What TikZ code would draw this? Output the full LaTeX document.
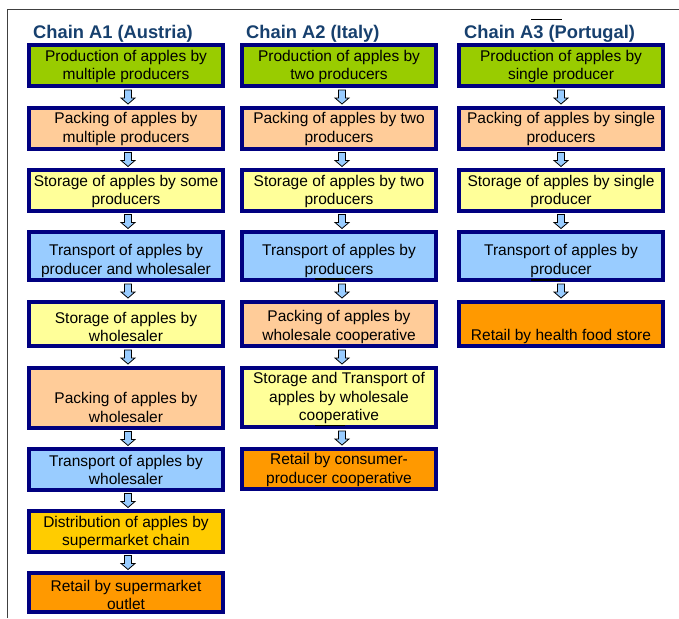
\documentclass[tikz,border=0pt]{standalone}
\usepackage{fontspec}
\setmainfont{Liberation Sans}
\usetikzlibrary{calc}
\definecolor{navyb}{HTML}{000080}
\definecolor{gbox}{HTML}{99CC00}
\definecolor{pbox}{HTML}{FFCC99}
\definecolor{ybox}{HTML}{FFFF99}
\definecolor{bbox}{HTML}{99CCFF}
\definecolor{obox}{HTML}{FFCC00}
\definecolor{rbox}{HTML}{FF9900}
\definecolor{titleblue}{HTML}{17406E}
\newcommand{\chbox}[8]{%
  \node[chbox, fill=#2, minimum width={#4-#3-4}, minimum height={#6-#5-4}] (#1) at ({(#3+#4)/2},{(#5+#6)/2}) {};
  \node[chtext] (#1t) at ({(#3+#4)/2},#7) {#8};
}
\newcommand{\darr}[3]{\path ($(#1.south)!0.5!(#2.north)+(#3,0)$) pic {downarr};}
\tikzset{
  chbox/.style={draw=navyb, line width=4pt, rectangle, inner sep=0pt},
  chtext/.style={align=center, inner sep=0pt, yshift=-1.5pt, font=\fontsize{15.5}{18.5}\selectfont},
  chtitle/.style={anchor=base west, inner sep=0pt, text=titleblue, font=\fontsize{18.3}{20}\selectfont\bfseries},
  arrstyle/.style={draw=black, fill=bbox, line width=0.8pt, line join=miter},
  downarr/.pic={\draw[arrstyle] (-3.5,-7) -- (3.5,-7) -- (3.5,1) -- (7,1) -- (0,7) -- (-7,1) -- (-3.5,1) -- cycle;},
  stray/.style={draw=black, line width=1.5pt}
}
\begin{document}
\begin{tikzpicture}[x=1pt,y=-1pt]
\useasboundingbox[fill=white] (0,0) rectangle (679,618);
\draw[black!75, line width=1.6pt] (7.5,618) -- (7.5,9.5) -- (679,9.5);

\node[chtitle] (t1) at (33,38) {Chain A1 (Austria)};
\node[chtitle] (t2) at (246,38) {Chain A2 (Italy)};
\node[chtitle] (t3) at (464,38) {Chain A3 (Portugal)};

% Chain A1
\chbox{a1}{gbox}{27}{225}{43}{88}{65}{Production of apples by\\multiple producers}
\chbox{a2}{pbox}{27}{225}{106}{151}{127.5}{Packing of apples by\\multiple producers}
\chbox{a3}{ybox}{27}{225}{168}{213}{190}{Storage of apples by some\\producers}
\chbox{a4}{bbox}{27}{225}{230}{282}{259.5}{Transport of apples by\\producer and wholesaler}
\chbox{a5}{ybox}{27}{225}{300}{348}{325.5}{Storage of apples by\\wholesaler}
\chbox{a6}{pbox}{27}{225}{366}{430}{406}{Packing of apples by\\wholesaler}
\chbox{a7}{bbox}{27}{225}{447}{492}{468.5}{Transport of apples by\\wholesaler}
\chbox{a8}{obox}{27}{225}{509}{554}{531}{Distribution of apples by\\supermarket chain}
\chbox{a9}{rbox}{27}{225}{571}{614}{593.5}{Retail by supermarket\\outlet}

% Chain A2
\chbox{b1}{gbox}{240}{438}{43}{88}{65}{Production of apples by\\two producers}
\chbox{b2}{pbox}{240}{438}{106}{151}{127.5}{Packing of apples by two\\producers}
\chbox{b3}{ybox}{240}{438}{168}{213}{190}{Storage of apples by two\\producers}
\chbox{b4}{bbox}{240}{438}{230}{282}{259.5}{Transport of apples by\\producers}
\chbox{b5}{pbox}{240}{438}{300}{348}{325.5}{Packing of apples by\\wholesale cooperative}
\chbox{b6}{ybox}{240}{438}{366}{429}{396.5}{Storage and Transport of\\apples by wholesale\\cooperative}
\chbox{b7}{rbox}{240}{438}{447}{491}{468.5}{Retail by consumer-\\producer cooperative}

% Chain A3
\chbox{c1}{gbox}{457}{665}{43}{88}{65}{Production of apples by\\single producer}
\chbox{c2}{pbox}{457}{665}{106}{151}{127.5}{Packing of apples by single\\producers}
\chbox{c3}{ybox}{457}{665}{168}{213}{190}{Storage of apples by single\\producer}
\chbox{c4}{bbox}{457}{665}{230}{282}{259.5}{Transport of apples by\\producer}
\chbox{c5}{rbox}{457}{665}{300}{348}{335}{Retail by health food store}

% arrows
\darr{a1}{a2}{2}\darr{a2}{a3}{2}\darr{a3}{a4}{2}\darr{a4}{a5}{2}
\darr{a5}{a6}{2}\darr{a6}{a7}{2}\darr{a7}{a8}{2}\darr{a8}{a9}{2}
\darr{b1}{b2}{3}\darr{b2}{b3}{3}\darr{b3}{b4}{3}\darr{b4}{b5}{3}
\darr{b5}{b6}{3}\darr{b6}{b7}{3}
\darr{c1}{c2}{0}\darr{c2}{c3}{0}\darr{c3}{c4}{0}\darr{c4}{c5}{0}

% stray marks
\draw[stray] (531,19.5) -- (562,19.5);
\draw[stray] (531,280) -- (561,280);
\draw[stray] (315,279) -- (345,279);
\draw[stray] (315,425.5) -- (345,425.5);
\end{tikzpicture}
\end{document}
